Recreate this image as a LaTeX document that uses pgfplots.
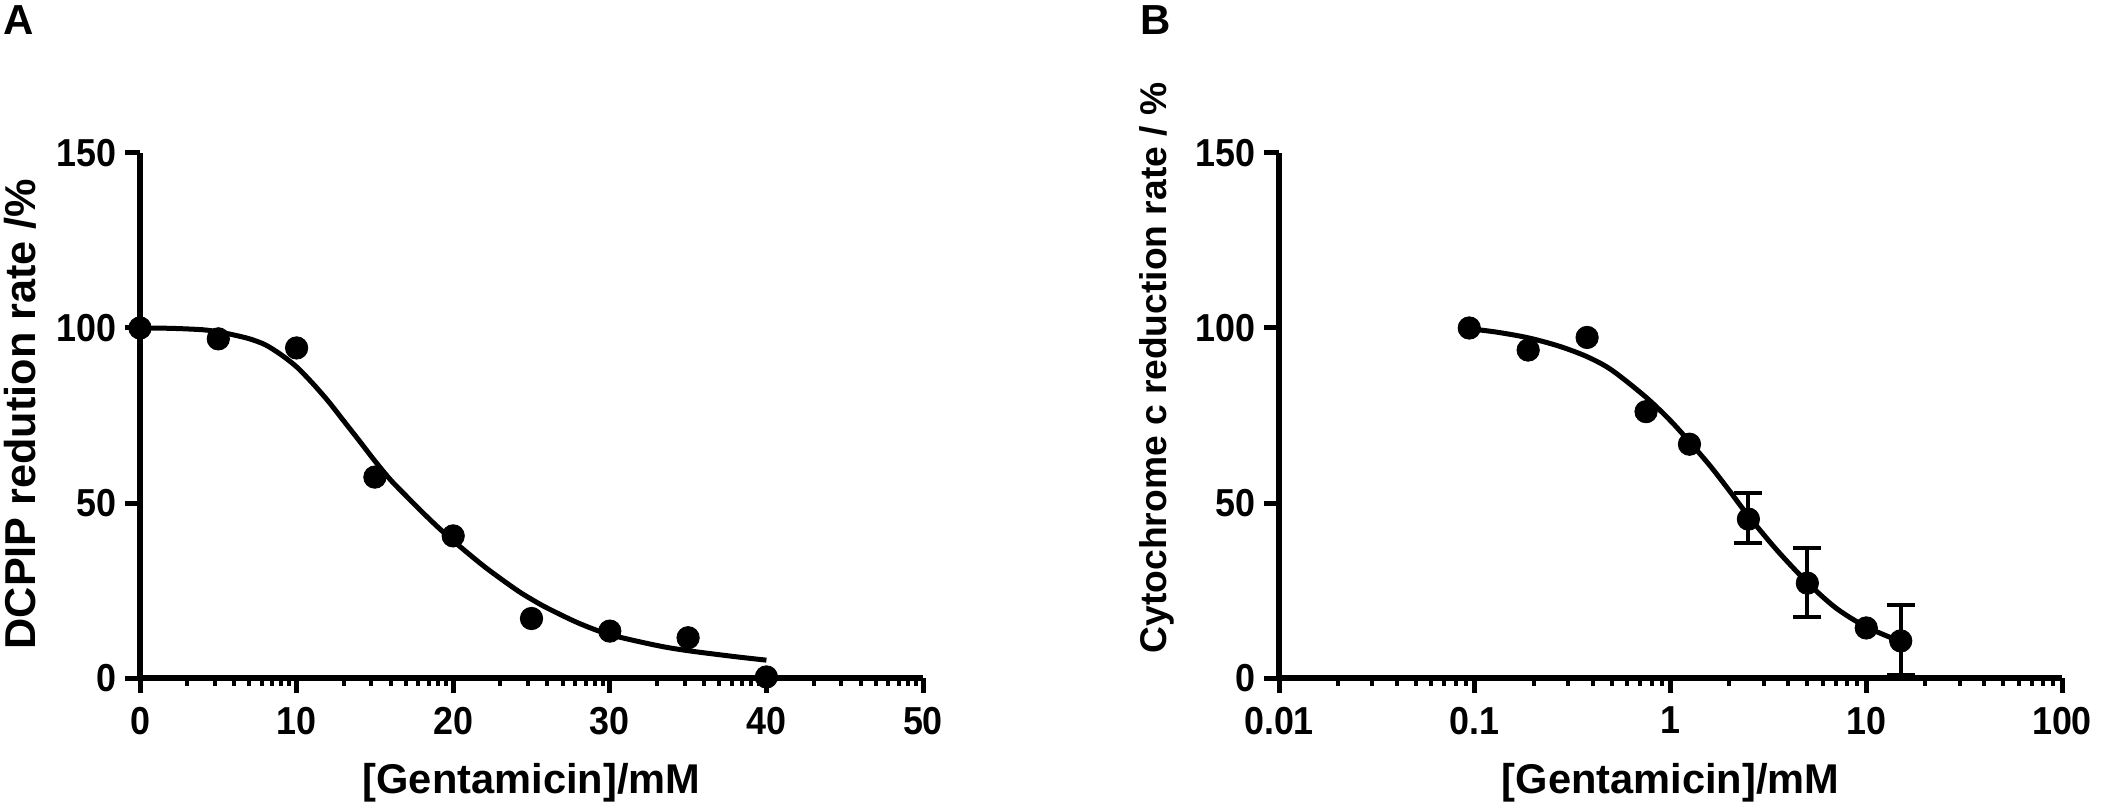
\documentclass[border=0pt]{standalone}
\usepackage{fontspec}
\setmainfont{Liberation Sans}
\newfontfamily\tickfont{Liberation Sans}[FakeStretch=0.92]
\usepackage{pgfplots}
\pgfplotsset{compat=1.18}
\begin{document}
\begin{tikzpicture}
\path[use as bounding box] (0,0) rectangle (1051pt,404.5pt);
\pgfplotsset{
  panel/.style={
    scale only axis, width=391.5pt, height=262.5pt,
    anchor=south west, clip=false,
    axis x line*=bottom, axis y line*=left,
    axis line style={line width=2.8pt, black},
    tick align=outside,
    major tick length=7.5pt, minor tick length=4pt,
    major tick style={line width=2.5pt, black},
    minor tick style={line width=2pt, black},
    ymin=0, ymax=150, ytick={0,50,100,150},
    /pgf/number format/assume math mode=true,
    ticklabel style={font=\tickfont\fontsize{19.5pt}{20pt}\selectfont\bfseries},
    xticklabel style={anchor=north, inner sep=0pt},
    yticklabel style={anchor=east, inner sep=0pt},
    xticklabel shift=6.75pt, yticklabel shift=4pt,
  }
}
\begin{axis}[panel, at={(70pt,65.5pt)},
  xmin=0, xmax=50, xtick={0,10,20,30,40,50},
  minor xtick={3.0103,4.7712,6.0206,6.9897,7.7815,8.4510,9.0309,9.5424,
    13.0103,14.7712,16.0206,16.9897,17.7815,18.4510,19.0309,19.5424,
    23.0103,24.7712,26.0206,26.9897,27.7815,28.4510,29.0309,29.5424,
    33.0103,34.7712,36.0206,36.9897,37.7815,38.4510,39.0309,39.5424,
    43.0103,44.7712,46.0206,46.9897,47.7815,48.4510,49.0309,49.5424},
]
\addplot[smooth, line width=2.5pt, black] coordinates {
 (0,100)(2,99.9)(4,99.5)(5,98.9)(6,98)(7,96.9)(8,95.2)(9,92.4)(10,88.9)(11,84.3)(12,79.2)
 (13,73.5)(14,67.8)(15,62)(16,56.6)(17,52)(18,47.5)(19,43.2)(20,39.2)(22,31.8)(24,25.3)
 (25,22.5)(26,20)(28,15.7)(30,12.4)(33,9.3)(35,7.8)(38,6.1)(40,5.1)};
\addplot[only marks, mark=*, mark size=5.6pt, black] coordinates {
 (0,100)(5,96.9)(10,94.3)(15,57.4)(20,40.6)(25,17)(30,13.4)(35,11.5)(40,0.3)};
\end{axis}
\begin{axis}[panel, at={(639.5pt,65.5pt)},
  xmode=log, xmin=0.01, xmax=100,
  xtick={0.01,0.1,1,10,100}, xticklabels={0.01,0.1,1,10,100},
  minor xtick={0.02,0.03,0.04,0.05,0.06,0.07,0.08,0.09,
    0.2,0.3,0.4,0.5,0.6,0.7,0.8,0.9,2,3,4,5,6,7,8,9,
    20,30,40,50,60,70,80,90},
]
\addplot[smooth, line width=2.5pt, black] coordinates {
 (0.09375,99.8)(0.13,98.8)(0.1875,97.2)(0.27,94.8)(0.375,91.8)(0.5,88)(0.75,80.2)(1,73.5)
 (1.25,67.5)(1.6,60.5)(2,53.5)(2.5,46.3)(3.5,36.5)(5,27.3)(7,20)(10,14.6)(15,10.4)};
\addplot[only marks, mark=*, mark size=5.6pt, black] coordinates {
 (0.09375,100)(0.1875,93.7)(0.375,97.3)(0.75,76.1)(1.25,66.8)(10,14.3)};
\addplot[only marks, mark=*, mark size=5.6pt, black,
  error bars/.cd, y dir=both, y explicit,
  error bar style={line width=2pt, black},
  error mark options={rotate=90, line width=2pt, mark size=7pt, black}] coordinates {
 (2.5,45.4) += (0,7.4) -= (0,6.9)
 (5,27.1) += (0,10) -= (0,9.6)
 (15,10.6) += (0,10.3) -= (0,9.8)};
\end{axis}
\begin{scope}[every node/.style={inner sep=0pt}]
\node[anchor=base, font=\fontsize{20.8pt}{22pt}\selectfont\bfseries] at (265.75pt,8pt) {[Gentamicin]/mM};
\node[anchor=base, font=\fontsize{20.8pt}{22pt}\selectfont\bfseries] at (835.25pt,8pt) {[Gentamicin]/mM};
\node[anchor=base, rotate=90, font=\fontsize{21.6pt}{22pt}\selectfont\bfseries] at (17.5pt,197.5pt) {DCPIP redution rate /\%};
\node[anchor=base, rotate=90, font=\fontsize{18.6pt}{20pt}\selectfont\bfseries] at (583pt,220.5pt) {Cytochrome c reduction rate / \%};
\node[anchor=base west, font=\fontsize{21pt}{22pt}\selectfont\bfseries] at (1.5pt,387pt) {A};
\node[anchor=base west, font=\fontsize{21pt}{22pt}\selectfont\bfseries] at (570pt,387pt) {B};
\end{scope}
\end{tikzpicture}
\end{document}
